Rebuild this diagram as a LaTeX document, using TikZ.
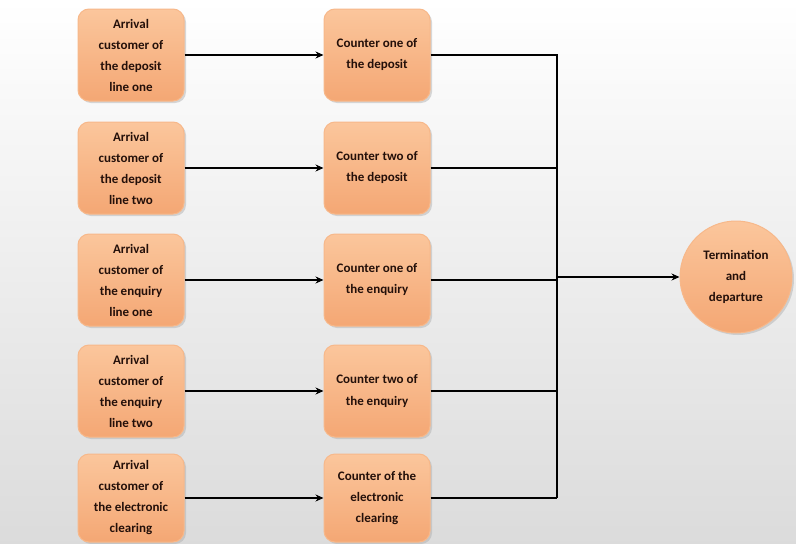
\documentclass[tikz,border=0pt]{standalone}
\usepackage{fontspec}
\setmainfont{Carlito}
\usetikzlibrary{arrows.meta,shadows}
\definecolor{boxtop}{HTML}{FBC69C}
\definecolor{boxbot}{HTML}{F4A774}
\definecolor{boxline}{HTML}{F7B88A}
\definecolor{txt}{HTML}{24100A}
\tikzset{
  box/.style={rounded corners=11pt, minimum width=106pt, minimum height=92pt,
    top color=boxtop, bottom color=boxbot, draw=boxline, line width=1pt,
    drop shadow={shadow xshift=2pt, shadow yshift=-2pt, fill=black!30, opacity=0.5},
    align=center, text=txt, font=\bfseries\fontsize{13}{21}\selectfont, inner sep=2pt},
  endc/.style={circle, minimum size=112pt, top color=boxtop, bottom color=boxbot,
    draw=boxline, line width=1pt,
    drop shadow={shadow xshift=2pt, shadow yshift=-2pt, fill=black!30, opacity=0.5},
    align=center, text=txt, font=\bfseries\fontsize{13}{21}\selectfont, inner sep=1pt},
  conn/.style={line width=2.2pt, black},
  arr/.style={conn, -{Stealth[length=8pt,width=7pt]}}
}
\begin{document}
\begin{tikzpicture}[x=1pt,y=-1pt]
\shade[top color=white, bottom color=black!14] (0,0) rectangle (796,544);
\useasboundingbox (0,0) rectangle (796,544);
\node[box] (a1) at (131,55) {Arrival\\customer of\\the deposit\\line one};
\node[box] (a2) at (131,168) {Arrival\\customer of\\the deposit\\line two};
\node[box] (a3) at (131,280) {Arrival\\customer of\\the enquiry\\line one};
\node[box] (a4) at (131,391) {Arrival\\customer of\\the enquiry\\line two};
\node[box, minimum height=88pt] (a5) at (131,498) {Arrival\\customer of\\the electronic\\clearing};
\node[box] (m1) at (377,55) {Counter one of\\the deposit};
\node[box] (m2) at (377,168) {Counter two of\\the deposit};
\node[box] (m3) at (377,280) {Counter one of\\the enquiry};
\node[box] (m4) at (377,391) {Counter two of\\the enquiry};
\node[box, minimum height=88pt] (m5) at (377,498) {Counter of the\\electronic\\clearing};
\node[endc] (t) at (736,277) {Termination\\and\\departure};
\coordinate (top) at (557,55);
\coordinate (bot) at (557,498);
\coordinate (mid) at (557,277);
\foreach \i in {1,...,5} {\draw[arr] (a\i) -- (m\i);}
\draw[conn] (m1.east) -- (top) -- (bot);
\foreach \i in {2,...,5} {\draw[conn] (m\i.east) -- (m\i.east -| top);}
\draw[arr] (mid) -- (t);
\end{tikzpicture}
\end{document}
